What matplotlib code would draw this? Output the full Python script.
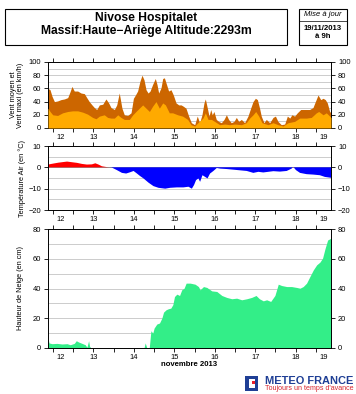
import numpy as np
import matplotlib
matplotlib.use("Agg")
import matplotlib.pyplot as plt
from matplotlib.patches import Rectangle

plt.rcParams['font.family'] = ['Liberation Sans', 'DejaVu Sans']

# ---------------- data (hours since 12/11/2013 09h) ----------------
start_hour = 9
days = [12, 13, 14, 15, 16, 17, 18, 19]
span_h = 168

wind_max_h = [0, 1.2, 2.4, 3.8, 5.7, 7.7, 9.7, 11.7, 13.1, 14.2, 15.6, 17.6, 19.6, 21.6, 23.0,
              24.5, 26.1, 27.5, 28.9, 30.5, 32.5, 34.4, 36.0, 37.4, 39.4, 40.8, 42.3, 43.9, 45.3,
              47.3, 49.3, 50.7, 51.9, 53.2, 54.6, 55.8, 57.0, 58.2, 59.4, 60.6, 62.1, 63.7, 64.7,
              65.7, 67.1, 68.1, 69.1, 70.1, 71.6, 73.0, 74.4, 76.0, 77.6, 79.0, 80.3, 81.9, 83.5,
              85.1, 87.1, 88.6, 90.0, 91.4, 92.6, 93.4, 94.6, 95.6, 96.6, 97.5, 98.5, 99.9, 101.3,
              102.9, 104.5, 105.9, 107.2, 108.8, 110.4, 111.8, 113.2, 114.8, 116.7, 118.7, 120.3,
              121.7, 123.1, 124.3, 125.6, 126.6, 128.2, 129.6, 131.6, 133.6, 135.0, 136.5, 138.5,
              140.5, 142.1, 143.5, 144.8, 146.4, 148.0, 150.0, 152.4, 155.3, 157.3, 158.7, 160.3,
              161.9, 163.3, 164.6, 165.8, 167.2, 168.0]
wind_max = [60, 58, 48, 40, 41, 43, 44, 46, 55, 63, 56, 56, 53, 52, 46,
            40, 35, 31, 28, 35, 36, 44, 38, 31, 28, 35, 53, 30, 20,
            19, 23, 45, 50, 56, 71, 80, 73, 58, 53, 56, 66, 75, 66,
            53, 61, 75, 76, 68, 56, 58, 50, 38, 35, 35, 33, 30, 18,
            8, 5, 18, 8, 20, 38, 44, 30, 18, 28, 20, 25, 13, 10,
            8, 13, 20, 13, 8, 10, 16, 10, 13, 8, 18, 30,
            40, 45, 43, 30, 18, 8, 13, 8, 16, 18, 10, 5,
            6, 18, 15, 20, 18, 23, 28, 28, 28, 31, 40, 50,
            43, 45, 43, 38, 25, 23]

wind_mean_h = [0, 1.2, 2.8, 5.7, 8.7, 11.7, 14.6, 17.6, 20.6, 23.5, 26.5, 28.5, 30.5, 33.4,
               35.4, 37.4, 39.4, 41.4, 43.3, 45.3, 48.3, 50.3, 52.2, 54.2, 56.2, 58.2, 60.2,
               62.1, 64.1, 66.1, 68.1, 69.7, 72.0, 74.0, 77.0, 79.9, 82.9, 84.9, 87.1, 89.0,
               92.0, 93.4, 95.0, 97.0, 98.9, 101.9, 104.9, 107.8, 110.8, 114.8, 117.7, 119.7,
               121.7, 123.3, 125.1, 127.0, 130.6, 133.6, 136.5, 139.5, 142.5, 146.4, 149.4,
               153.4, 156.3, 159.3, 160.7, 163.3, 165.2, 168.0]
wind_mean = [30, 25, 20, 19, 23, 25, 26, 26, 24, 21, 16, 14, 18, 20,
             16, 15, 15, 20, 16, 13, 13, 20, 25, 30, 35, 30, 25,
             33, 40, 30, 38, 35, 23, 23, 20, 18, 13, 5, 3, 8,
             15, 23, 13, 13, 10, 5, 6, 5, 6, 5, 8, 15,
             20, 25, 18, 8, 5, 8, 5, 3, 8, 10, 15,
             15, 16, 23, 25, 20, 23, 16]

temp_h = [0, 3.4, 6.3, 9.3, 11.3, 14.2, 17.2, 20.2, 23.1, 26.1, 28.1, 30.0, 32.0, 35.0, 37.9,
          40.9, 43.9, 46.4, 48.8, 50.8, 52.8, 54.7, 56.7, 59.7, 62.6, 65.6, 69.6, 72.5, 76.5,
          80.4, 83.4, 85.4, 86.7, 87.9, 89.3, 90.3, 91.7, 93.3, 94.7, 96.2, 98.2, 100.2, 102.2,
          106.1, 110.1, 114.0, 118.0, 121.9, 124.9, 127.8, 130.8, 133.8, 137.7, 141.7, 144.6,
          145.6, 147.2, 149.6, 153.5, 157.5, 161.4, 164.4, 168.0]
temp = [1.3, 1.8, 2.2, 2.5, 2.7, 2.4, 2.1, 1.6, 1.3, 1.4, 1.9, 1.3, 0.5, 0.1, -0.1,
        -1.3, -2.6, -2.9, -2.3, -1.7, -2.9, -4.1, -5.2, -7.2, -8.8, -9.6, -10.0, -9.6, -9.4,
        -9.4, -9.1, -10.0, -8.3, -6.0, -5.2, -6.8, -3.7, -4.5, -5.2, -2.9, -1.7, -0.3, -0.6,
        -0.8, -1.1, -1.4, -1.7, -2.6, -2.1, -2.4, -2.1, -1.8, -2.0, -1.7, -0.6,
        0.2, -1.3, -2.6, -3.2, -3.4, -3.7, -4.5, -4.9]

snow_h = [0, 0.6, 2.4, 5.3, 8.3, 11.3, 13.2, 15.6, 16.8, 18.2, 20.2, 22.1, 23.1, 24.1, 24.7,
          25.5, 57.0, 57.7, 58.7, 60.1, 61.1, 62.2, 63.0, 64.6, 66.2, 67.6, 68.6, 70.1, 71.5,
          72.9, 74.1, 75.1, 76.5, 78.1, 79.4, 80.8, 82.0, 84.4, 87.3, 89.3, 90.3, 92.3, 94.3,
          97.2, 100.2, 103.2, 106.1, 109.1, 112.0, 115.0, 118.0, 120.9, 123.5, 125.5, 127.8,
          129.8, 132.2, 134.7, 136.7, 138.7, 141.7, 144.6, 147.6, 149.6, 151.5, 153.5, 155.5,
          157.5, 159.5, 161.4, 163.0, 164.4, 166.0, 168.0]
snow = [6.7, 3.4, 2.9, 3.1, 2.7, 2.9, 2.2, 3.1, 4.9, 4.0, 3.1, 2.2, 0.5, 4.9, 1.1,
        0, 0, 3.4, 0, 0, 11.6, 10.0, 13.4, 16.1, 16.8, 20.1, 24.1, 25.7, 26.4,
        26.8, 29.1, 34.6, 36.2, 35.3, 39.1, 40.2, 43.6, 43.6, 42.9, 41.3, 39.1, 41.3, 40.7,
        38.4, 38.0, 35.3, 34.0, 33.1, 33.5, 32.4, 33.1, 34.0, 35.3, 33.1, 31.7,
        32.4, 31.3, 35.3, 42.9, 42.0, 41.3, 41.3, 40.7, 40.2, 41.3, 43.6, 48.1,
        52.5, 55.9, 57.7, 60.4, 66.6, 72.6, 73.8]

# ---------------- figure ----------------
W, H = 356, 394
fig = plt.figure(figsize=(W / 100, H / 100), dpi=100)
fig.patch.set_facecolor('white')


def px_axes(left, top, right, bottom):
    return fig.add_axes([left / W, 1 - bottom / H, (right - left) / W, (bottom - top) / H])


def style_axis(ax, ylim, yticks, gridstep):
    ax.set_xlim(0, span_h)
    ax.set_ylim(*ylim)
    ax.set_yticks(yticks)
    ax.set_yticklabels([str(v).replace('-', '\u2212') for v in yticks])
    for g in np.arange(ylim[0], ylim[1] + 0.01, gridstep):
        if ylim[0] < g < ylim[1]:
            ax.axhline(g, color='#c4c4c4', lw=0.6, zorder=0)
    ax.xaxis.remove_overlapping_locs = False
    # 12-hourly tick marks
    first = (24 - start_hour) % 12
    ax.set_xticks(np.arange(first, span_h + 0.01, 12))
    ax.set_xticklabels([])
    # day labels centred on visible part of each day
    centers = []
    for i, d in enumerate(days):
        s = max(0, (24 - start_hour) + (i - 1) * 24)
        e = min(span_h, (24 - start_hour) + i * 24)
        centers.append((s + e) / 2)
    ax.set_xticks(centers, minor=True)
    ax.set_xticklabels([str(d) for d in days], minor=True)
    ax.tick_params(axis='x', which='major', direction='out', length=3, width=0.6,
                   top=True, bottom=True)
    ax.tick_params(axis='x', which='minor', length=0, pad=4, labelsize=5.4)
    ax.tick_params(axis='y', direction='out', length=3, width=0.6, labelsize=5.4,
                   left=True, right=True, labelleft=True, labelright=True, pad=2)
    for sp in ax.spines.values():
        sp.set_linewidth(0.7)


# wind
ax1 = px_axes(48, 62, 331, 128)
ax1.fill_between(wind_max_h, wind_max, 0, color='#cc6600', lw=0, zorder=2)
ax1.fill_between(wind_mean_h, wind_mean, 0, color='#ffaa00', lw=0, zorder=3)
style_axis(ax1, (0, 100), [0, 20, 40, 60, 80, 100], 10)
ax1.set_ylabel('Vent moyen et\nVent maxi (en km/h)', fontsize=5.3, labelpad=3, linespacing=1.1)

# temperature
ax2 = px_axes(48, 146, 331, 210)
t = np.array(temp)
th = np.array(temp_h)
ax2.fill_between(th, t, 0, where=t >= 0, interpolate=True, color='#ff0000', lw=0, zorder=2)
ax2.fill_between(th, t, 0, where=t <= 0, interpolate=True, color='#0000ff', lw=0, zorder=2)
style_axis(ax2, (-20, 10), [-20, -10, 0, 10], 5)
ax2.axhline(0, color='#888888', lw=0.6, zorder=1)
ax2.set_ylabel('Température Air (en °C)', fontsize=5.3, labelpad=2)

# snow
ax3 = px_axes(48, 229, 331, 348)
ax3.fill_between(snow_h, snow, 0, color='#33ee88', lw=0, zorder=2)
style_axis(ax3, (0, 80), [0, 20, 40, 60, 80], 10)
ax3.set_ylabel('Hauteur de Neige (en cm)', fontsize=5.3, labelpad=6)
ax3.set_xlabel('novembre 2013', fontsize=5.6, fontweight='bold', labelpad=0)

# title boxes
fig.patches.append(Rectangle((5 / W, 1 - 45 / H), 282 / W, 36 / H, transform=fig.transFigure,
                             fill=False, ec='black', lw=0.8))
fig.text(146 / W, 1 - 18 / H, 'Nivose Hospitalet', ha='center', va='center',
         fontsize=8.7, fontweight='bold')
fig.text(146 / W, 1 - 31 / H, 'Massif:Haute\u2212Ariège Altitude:2293m', ha='center', va='center',
         fontsize=8.7, fontweight='bold')
fig.patches.append(Rectangle((299 / W, 1 - 45 / H), 48 / W, 36 / H, transform=fig.transFigure,
                             fill=False, ec='black', lw=0.8))
fig.lines.append(plt.Line2D([299 / W, 347 / W], [1 - 21 / H, 1 - 21 / H],
                            transform=fig.transFigure, color='black', lw=0.5))
fig.text(323 / W, 1 - 15 / H, 'Mise à jour', ha='center', va='center', fontsize=5.5, style='italic')
fig.text(323 / W, 1 - 29 / H, '19/11/2013', ha='center', va='center', fontsize=5.6, fontweight='bold')
fig.text(323 / W, 1 - 37 / H, 'à 9h', ha='center', va='center', fontsize=5.6, fontweight='bold')

# logo
fig.patches.append(Rectangle((245 / W, 1 - 391 / H), 13 / W, 15 / H, transform=fig.transFigure,
                             fc='#1f3f95', ec='none'))
fig.patches.append(Rectangle((249 / W, 1 - 388 / H), 6 / W, 9 / H, transform=fig.transFigure,
                             fc='white', ec='none'))
fig.patches.append(Rectangle((252 / W, 1 - 384 / H), 3 / W, 3 / H, transform=fig.transFigure,
                             fc='#e8202a', ec='none'))
fig.text(309 / W, 1 - 380.5 / H, 'METEO FRANCE', ha='center', va='center', fontsize=7.9,
         fontweight='bold', color='#1f3f95')
fig.text(309 / W, 1 - 388.5 / H, "Toujours un temps d'avance", ha='center', va='center',
         fontsize=5.1, color='#d8262e')

fig.savefig('out.png', dpi=100, facecolor='white')
